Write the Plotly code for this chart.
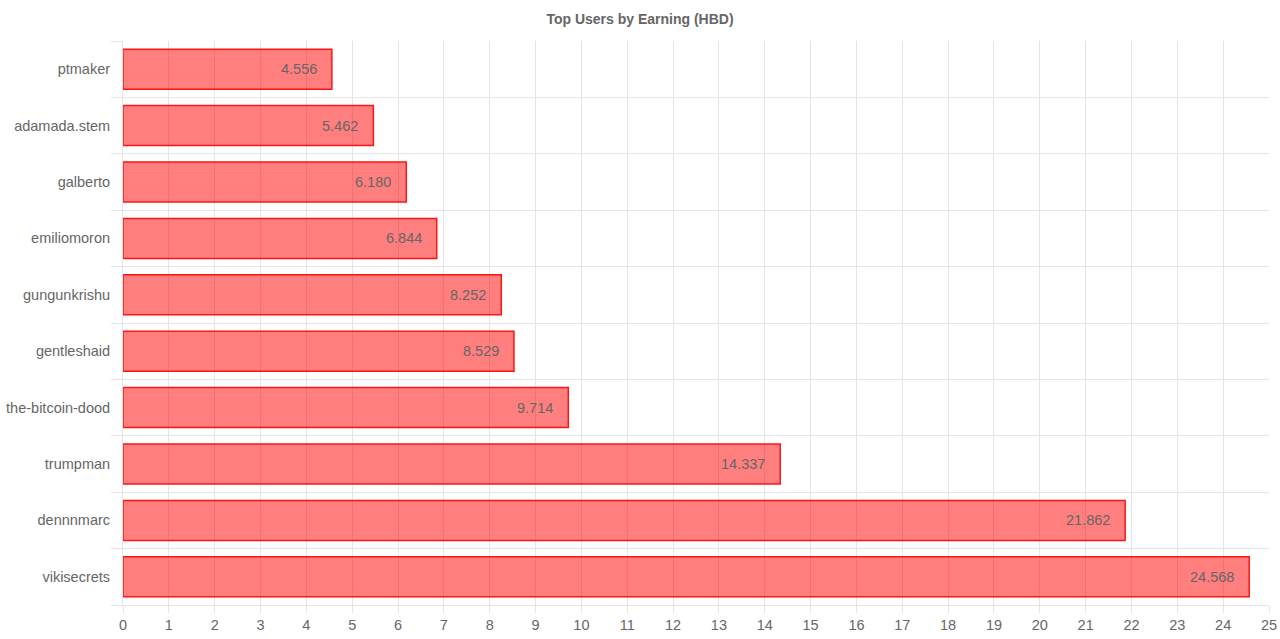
import plotly.graph_objects as go

users = ["ptmaker", "adamada.stem", "galberto", "emiliomoron", "gungunkrishu",
         "gentleshaid", "the-bitcoin-dood", "trumpman", "dennnmarc", "vikisecrets"]
earnings = [4.556, 5.462, 6.180, 6.844, 8.252, 8.529, 9.714, 14.337, 21.862, 24.568]
labels = ["4.556", "5.462", "6.180", "6.844", "8.252", "8.529", "9.714", "14.337", "21.862", "24.568"]

idx = list(range(len(users)))
FONT = "Liberation Sans, Arial, Helvetica, sans-serif"
GRID = "#e5e5e5"

fig = go.Figure(go.Bar(
    x=earnings, y=idx, orientation="h",
    marker=dict(color="rgba(255,0,0,0.5)", line=dict(color="rgba(255,20,20,1)", width=1.5)),
    hoverinfo="skip",
))

annotations = [dict(x=v, y=i, text=t, xref="x", yref="y", xanchor="right", yanchor="middle",
                    xshift=-13, showarrow=False, font=dict(size=14.5, color="#666", family=FONT))
               for i, (v, t) in enumerate(zip(earnings, labels))]

fig.update_layout(
    width=1280, height=639,
    margin=dict(l=123, r=11, t=41, b=34, autoexpand=False),
    paper_bgcolor="white", plot_bgcolor="white",
    bargap=0.29,
    showlegend=False,
    title=dict(text="<b>Top Users by Earning (HBD)</b>", x=0.5, xanchor="center", y=0.97, yanchor="middle",
               yref="container", font=dict(size=14, color="#666", family=FONT)),
    annotations=annotations,
    xaxis=dict(range=[0, 25], dtick=1, tick0=0, showgrid=True, gridcolor=GRID, gridwidth=1,
               zeroline=False, showline=True, linecolor=GRID, automargin=False,
               ticks="outside", ticklen=7, tickcolor=GRID,
               tickfont=dict(size=14.5, color="#666", family=FONT)),
    yaxis=dict(tickmode="array", tickvals=idx, ticktext=users, range=[9.5, -0.5],
               showgrid=False, zeroline=False, showline=True, linecolor=GRID, automargin=False,
               ticks="outside", ticklen=9, tickcolor="rgba(0,0,0,0)",
               tickfont=dict(size=14.5, color="#666", family=FONT),
               minor=dict(tickmode="linear", tick0=0.5, dtick=1, showgrid=True, gridcolor=GRID,
                          ticks="outside", ticklen=11, tickcolor=GRID)),
)

fig.write_html("out.html")
